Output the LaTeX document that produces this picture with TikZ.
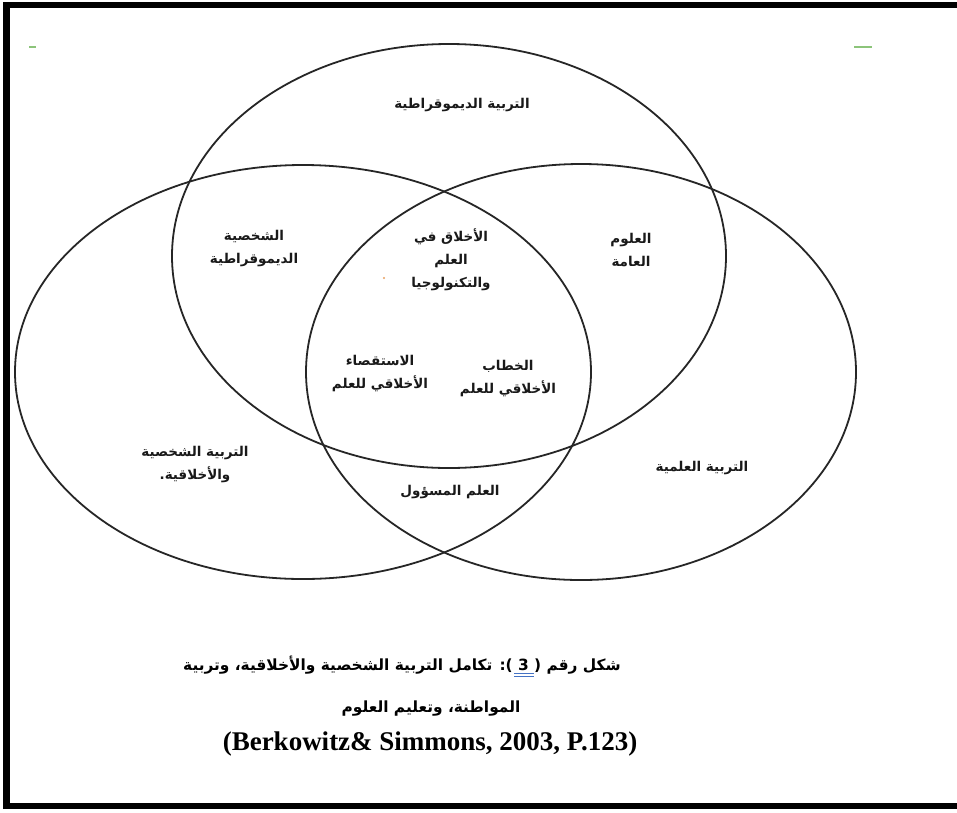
\documentclass[tikz,border=0pt]{standalone}
\usepackage{fontspec}
\setmainfont{Liberation Serif}
\newfontfamily\arabicfont[Script=Arabic]{DejaVu Sans}
\TeXXeTstate=1
\definecolor{ulblue}{HTML}{4472C4}
\definecolor{markgreen}{HTML}{8CC47A}
\definecolor{dotorange}{HTML}{E8A060}
\newcommand{\AR}[1]{\beginR #1\endR}
\begin{document}
\begin{tikzpicture}[x=1pt,y=-1pt,
  venn/.style={draw=black!85,line width=1.8pt},
  lab/.style={font=\arabicfont\bfseries\fontsize{13.5}{23}\selectfont,align=center,inner sep=0pt,text=black!90},
  captext/.style={font=\arabicfont\bfseries\fontsize{15.4}{20}\selectfont,inner sep=0pt},
  framefill/.style={fill=black},
  uline/.style={draw=ulblue,line width=0.9pt}]
\useasboundingbox (0,0) rectangle (957,812);
\fill[white] (0,0) rectangle (957,812);
% frame
\fill[framefill] (3,2) rectangle (957,8);
\fill[framefill] (3,2) rectangle (10,809);
\fill[framefill] (3,803) rectangle (957,809);
% green marks
\draw[markgreen,line width=1.5pt] (29,47) -- (36,47);
\draw[markgreen,line width=1.5pt] (854,47) -- (872,47);
% ellipses
\draw[venn] (449,256) ellipse [x radius=277, y radius=212];
\draw[venn] (303,372) ellipse [x radius=288, y radius=207];
\draw[venn] (581,372) ellipse [x radius=275, y radius=208];
% small dot
\fill[dotorange] (384,278) circle (1.2);
% labels
\node[lab] (dem) at (462,105) {\AR{التربية الديموقراطية}};
\node[lab] (pdem) at (254,249) {\AR{الشخصية}\\\AR{الديموقراطية}};
\node[lab] (eth) at (451,260) {\AR{الأخلاق في}\\\AR{العلم}\\\AR{والتكنولوجيا}};
\node[lab] (gen) at (631,250) {\AR{العلوم}\\\AR{العامة}};
\node[lab] (inq) at (380,374) {\AR{الاستقصاء}\\\AR{الأخلاقي للعلم}};
\node[lab] (disc) at (508,379) {\AR{الخطاب}\\\AR{الأخلاقي للعلم}};
\node[lab] (pers) at (195,465) {\AR{التربية الشخصية}\\\AR{والأخلاقية.}};
\node[lab] (resp) at (450,492) {\AR{العلم المسؤول}};
\node[lab] (sci) at (702,468) {\AR{التربية العلمية}};
% caption
\node[captext] (c1) at (402,665) {\AR{شكل رقم ( 3 ): تكامل التربية الشخصية والأخلاقية، وتربية}};
\coordinate (u1a) at (514,673.5);
\coordinate (u1b) at (534,673.5);
\coordinate (u2a) at (514,676.5);
\coordinate (u2b) at (534,676.5);
\draw[uline] (u1a) -- (u1b);
\draw[uline] (u2a) -- (u2b);
\node[captext] (c2) at (431,709) {\AR{المواطنة، وتعليم العلوم}};
\node[font=\bfseries\fontsize{27}{31}\selectfont,inner sep=0pt] (c3) at (430,744) {(Berkowitz\& Simmons, 2003, P.123)};
\end{tikzpicture}
\end{document}
